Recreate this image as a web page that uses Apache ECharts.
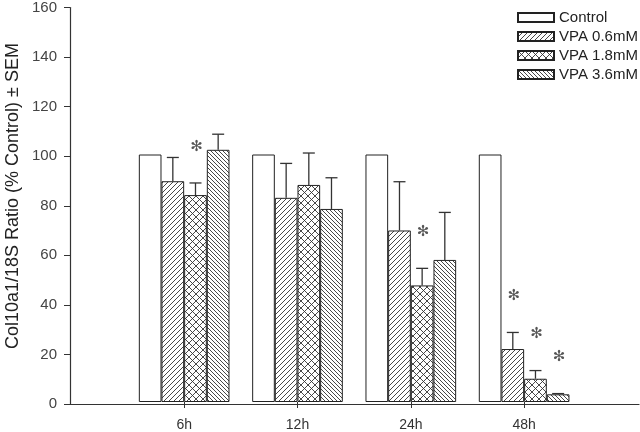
<!DOCTYPE html>
<html>
<head>
<meta charset="utf-8">
<script src="https://cdn.jsdelivr.net/npm/echarts@6/dist/echarts.min.js"></script>
<style>html,body{margin:0;padding:0;background:#fff}#c{width:640px;height:432px}</style>
</head>
<body>
<div id="c"></div>
<script>
// ---- data ----
var categories = ['6h', '12h', '24h', '48h'];
var seriesNames = ['Control', 'VPA 0.6mM', 'VPA 1.8mM', 'VPA 3.6mM'];
var control = [100, 100, 100, 100];
var vpa06 = [89.2, 82.5, 69.3, 21.4];
var vpa18 = [83.6, 87.7, 47.1, 9.4];
var vpa36 = [101.9, 78.0, 57.4, 3.1];
var sem06 = [9.6, 13.9, 19.7, 6.7];
var sem18 = [4.9, 12.9, 6.9, 3.3];
var sem36 = [6.3, 12.6, 19.2, 0.3];
var sig06 = [false, false, false, true];
var sig18 = [true, false, true, true];
var sig36 = [false, false, false, true];
var yTicks = [0, 20, 40, 60, 80, 100, 120, 140, 160];
var yTitle = 'Col10a1/18S Ratio (% Control) \u00b1 SEM';

// ---- patterns ----
function makePattern(kind, s) {
  var c = document.createElement('canvas');
  c.width = s; c.height = s;
  var ctx = c.getContext('2d');
  ctx.fillStyle = '#fff';
  ctx.fillRect(0, 0, s, s);
  ctx.strokeStyle = '#333';
  ctx.lineWidth = 0.9;
  ctx.beginPath();
  for (var k = -s; k <= s; k += s) {
    if (kind === 'fwd' || kind === 'cross') { ctx.moveTo(k, s); ctx.lineTo(k + s, 0); }
    if (kind === 'back' || kind === 'cross') { ctx.moveTo(k, 0); ctx.lineTo(k + s, s); }
  }
  ctx.stroke();
  return { image: c, repeat: 'repeat' };
}
var fills = ['#fff', makePattern('fwd', 5), makePattern('cross', 7), makePattern('back', 4)];
var values = [control, vpa06, vpa18, vpa36];
var sems = [null, sem06, sem18, sem36];
var sigs = [null, sig06, sig18, sig36];

var chart = echarts.init(document.getElementById('c'));
var font = 'Liberation Sans, Arial, sans-serif';

var series = [];
for (var i = 0; i < 4; i++) {
  series.push({
    name: seriesNames[i], type: 'bar', xAxisIndex: 1, yAxisIndex: 1,
    data: values[i], barWidth: '20%', barGap: '0%',
    itemStyle: { color: fills[i], borderColor: '#222', borderWidth: 1 },
    emphasis: { disabled: true }, animation: false
  });
}
for (var j = 1; j < 4; j++) {
  (function (idx) {
    var d = categories.map(function (c, k) {
      return [k, values[idx][k], sems[idx][k], sigs[idx][k] ? 1 : 0];
    });
    series.push({
      name: 'err' + idx, type: 'custom', xAxisIndex: 1, yAxisIndex: 1,
      data: d, animation: false, silent: true, z: 5,
      renderItem: function (params, api) {
        var cat = api.value(0), v = api.value(1), e = api.value(2), s = api.value(3);
        var band = api.size([1, 0])[0];
        var off = (idx - 1.5) * 0.2 * band;
        var p0 = api.coord([cat, v]);
        var p1 = api.coord([cat, v + e]);
        var x = p0[0] + off;
        var children = [
          { type: 'line', shape: { x1: x, y1: p0[1], x2: x, y2: p1[1] }, style: { stroke: '#333', lineWidth: 1.3 } },
          { type: 'line', shape: { x1: x - 6, y1: p1[1], x2: x + 6, y2: p1[1] }, style: { stroke: '#333', lineWidth: 1.3 } }
        ];
        if (s) {
          children.push({ type: 'text', x: x + 1, y: p1[1] - 36,
            style: { text: '\u273B', fontSize: 15, fontFamily: 'DejaVu Sans', fill: '#555', align: 'center', verticalAlign: 'middle' } });
        }
        return { type: 'group', children: children };
      }
    });
  })(j);
}

chart.setOption({
  animation: false,
  backgroundColor: '#fff',
  grid: [
    { left: 70, right: 1, top: 6, bottom: 28 },
    { left: 127.5, width: 453.3, top: 6, bottom: 28 }
  ],
  legend: {
    data: seriesNames, orient: 'vertical', left: 512, top: 4,
    itemWidth: 36, itemHeight: 9, itemGap: 2, icon: 'rect',
    textStyle: { fontFamily: font, fontSize: 15, color: '#222', lineHeight: 17 },
    selectedMode: false
  },
  graphic: [{
    type: 'text', rotation: Math.PI / 2,
    x: 13, y: 196,
    style: { text: yTitle, fontFamily: font, fontSize: 18, fill: '#222', align: 'center', verticalAlign: 'middle' }
  }],
  xAxis: [
    { type: 'value', gridIndex: 0, min: 0, max: 1, axisLine: { lineStyle: { color: '#333', width: 1.2 } },
      axisTick: { show: false }, axisLabel: { show: false }, splitLine: { show: false } },
    { type: 'category', gridIndex: 1, data: categories,
      axisLine: { show: false },
      axisTick: { show: true, alignWithLabel: true, length: 6, lineStyle: { color: '#333' } },
      axisLabel: { fontFamily: font, fontSize: 14, color: '#333', margin: 16 } }
  ],
  yAxis: [
    { type: 'value', gridIndex: 0, min: yTicks[0], max: yTicks[yTicks.length - 1], interval: 20,
      axisLine: { show: true, lineStyle: { color: '#333', width: 1.2 } },
      axisTick: { show: true, length: 6, lineStyle: { color: '#333' } },
      axisLabel: { fontFamily: font, fontSize: 15, color: '#444', margin: 13 },
      splitLine: { show: false } },
    { type: 'value', gridIndex: 1, min: 0, max: 160, show: false, splitLine: { show: false } }
  ],
  series: series
});
</script>
</body>
</html>
